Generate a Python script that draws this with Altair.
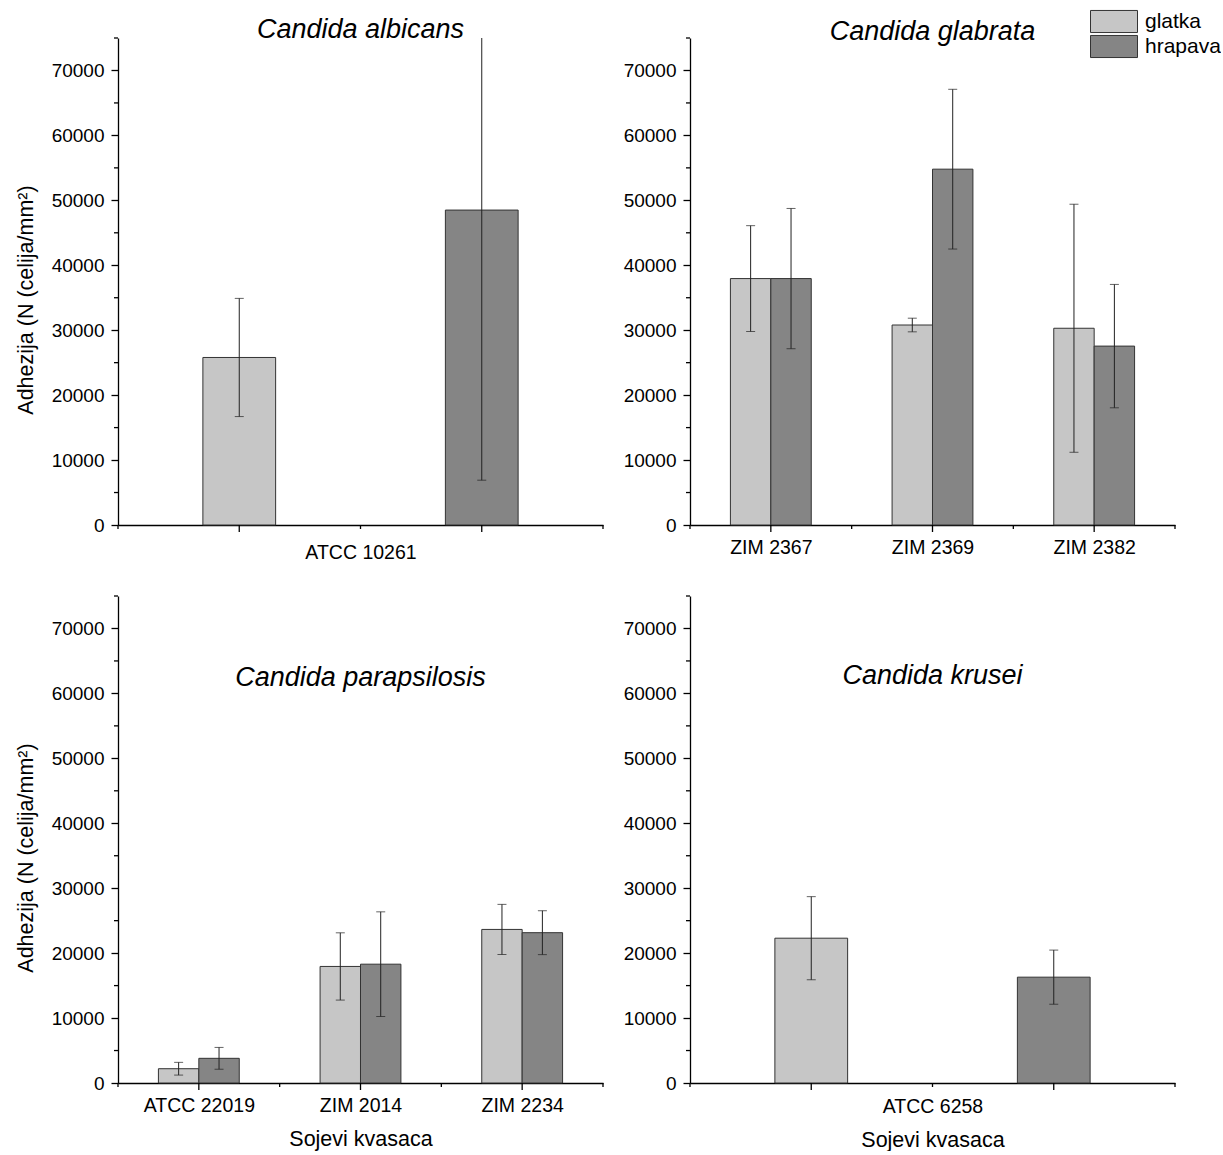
import altair as alt
import pandas as pd

FONT = "Liberation Sans"
SERIES = ["glatka", "hrapava"]
COLORS = ["#c6c6c6", "#858585"]

# Candida albicans
alb_strains = ["ATCC 10261"]
alb_glatka = [25800]
alb_glatka_sd = [9100]
alb_hrapava = [48500]
alb_hrapava_sd = [41600]

# Candida glabrata
gla_strains = ["ZIM 2367", "ZIM 2369", "ZIM 2382"]
gla_glatka = [37950, 30800, 30300]
gla_glatka_sd = [8150, 1050, 19100]
gla_hrapava = [37950, 54800, 27550]
gla_hrapava_sd = [10800, 12300, 9500]

# Candida parapsilosis
par_strains = ["ATCC 22019", "ZIM 2014", "ZIM 2234"]
par_glatka = [2200, 17950, 23650]
par_glatka_sd = [980, 5180, 3860]
par_hrapava = [3800, 18300, 23150]
par_hrapava_sd = [1680, 8060, 3380]

# Candida krusei
kru_strains = ["ATCC 6258"]
kru_glatka = [22300]
kru_glatka_sd = [6400]
kru_hrapava = [16300]
kru_hrapava_sd = [4170]

Y_TITLE = "Adhezija (N (celija/mm²)"
X_TITLE = "Sojevi kvasaca"
Y_MAJOR = list(range(0, 70001, 10000))
Y_MINOR = list(range(5000, 75001, 10000))

W, H = 485, 487


def make_panel(title, strains, g, gsd, h, hsd, ytitle, xtitle, toffset, xlabpad):
    single = len(strains) == 1
    rows = []
    for i, s in enumerate(strains):
        for k, (m, sd) in enumerate([(g[i], gsd[i]), (h[i], hsd[i])]):
            if single:
                c = 1.0 + 2.0 * k
                half = 0.3
            else:
                c = i + 1 - 0.125 + 0.25 * k
                half = 0.125
            rows.append({"strain": s, "tip": SERIES[k], "mean": m,
                         "lo": m - sd, "hi": m + sd,
                         "xc": c, "x0": c - half, "x1": c + half})
    df = pd.DataFrame(rows)

    if single:
        dom = [0, 4]
        label_vals = [2]
        lab = f"'{strains[0]}'"
        xmajor = [1, 3]
        xminor = [0, 2, 4]
    else:
        n = len(strains)
        dom = [0.5, n + 0.5]
        label_vals = list(range(1, n + 1))
        lab = " : ".join(f"datum.value == {i + 1} ? '{s}'" for i, s in enumerate(strains)) + " : ''"
        xmajor = list(range(1, n + 1))
        xminor = [0.5 + j for j in range(n + 1)]

    xscale = alt.Scale(domain=dom, nice=False, zero=False)
    yscale = alt.Scale(domain=[0, 75000], nice=False, zero=True)

    xaxis = alt.Axis(values=label_vals, labelExpr=lab, ticks=False, tickSize=0,
                     labelPadding=xlabpad, titlePadding=14, title=xtitle,
                     labelFontSize=19.5, titleFontSize=21.5)
    yaxis = alt.Axis(values=Y_MAJOR, format="d", tickSize=7,
                     labelPadding=7, titlePadding=14, title=ytitle,
                     titleY=H / 2 + 18, titleFontSize=21.5)

    base = alt.Chart(df)
    bars = base.mark_bar(stroke="#333333", strokeWidth=1).encode(
        x=alt.X("x0:Q", scale=xscale, axis=xaxis),
        x2="x1:Q",
        y=alt.Y("mean:Q", scale=yscale, stack=None, axis=yaxis),
        y2=alt.datum(0),
        color=alt.Color("tip:N", scale=alt.Scale(domain=SERIES, range=COLORS),
                        legend=alt.Legend(orient="none", legendX=972, legendY=-29,
                                          title=None,
                                          symbolType="M-1,-0.47H1V0.47H-1Z",
                                          symbolSize=2209,
                                          symbolStrokeColor="#333333",
                                          symbolStrokeWidth=1,
                                          symbolOpacity=1,
                                          clipHeight=25,
                                          labelFont=FONT, labelFontSize=21,
                                          labelColor="black", labelOffset=7,
                                          rowPadding=0)),
    )
    rule = base.mark_rule(color="#222222", strokeWidth=1, clip=True).encode(
        x=alt.X("xc:Q", scale=xscale, axis=xaxis),
        y=alt.Y("lo:Q", scale=yscale, axis=yaxis),
        y2="hi:Q",
    )
    cap_lo = base.mark_tick(color="#222222", orient="horizontal", size=9, thickness=1, clip=True).encode(
        x=alt.X("xc:Q", scale=xscale, axis=xaxis),
        y=alt.Y("lo:Q", scale=yscale, axis=yaxis),
    )
    cap_hi = base.mark_tick(color="#222222", orient="horizontal", size=9, thickness=1, clip=True).encode(
        x=alt.X("xc:Q", scale=xscale, axis=xaxis),
        y=alt.Y("hi:Q", scale=yscale, axis=yaxis),
    )
    # minor / major tick decorations that Vega-Lite axes cannot draw
    ymin = alt.Chart(pd.DataFrame({"v": Y_MINOR})).mark_rule(color="black", strokeWidth=1.3).encode(
        y=alt.Y("v:Q", scale=yscale, axis=yaxis),
        x=alt.value(-4), x2=alt.value(0),
    )
    xmaj = alt.Chart(pd.DataFrame({"v": xmajor})).mark_rule(color="black", strokeWidth=1.3).encode(
        x=alt.X("v:Q", scale=xscale, axis=xaxis),
        y=alt.value(H), y2=alt.value(H + 7),
    )
    xmin = alt.Chart(pd.DataFrame({"v": xminor})).mark_rule(color="black", strokeWidth=1.3).encode(
        x=alt.X("v:Q", scale=xscale, axis=xaxis),
        y=alt.value(H), y2=alt.value(H + 4),
    )
    return alt.layer(bars, rule, cap_lo, cap_hi, ymin, xmaj, xmin).properties(
        width=W, height=H,
        title=alt.TitleParams(title, font=FONT, fontSize=27, fontStyle="italic",
                              fontWeight="normal", color="black", anchor="middle",
                              baseline="middle", offset=toffset),
    )


p1 = make_panel("Candida albicans", alb_strains, alb_glatka, alb_glatka_sd,
                alb_hrapava, alb_hrapava_sd, Y_TITLE, None, -20, 18)
p2 = make_panel("Candida glabrata", gla_strains, gla_glatka, gla_glatka_sd,
                gla_hrapava, gla_hrapava_sd, None, None, -22, 13)
p3 = make_panel("Candida parapsilosis", par_strains, par_glatka, par_glatka_sd,
                par_hrapava, par_hrapava_sd, Y_TITLE, X_TITLE, -110, 13)
p4 = make_panel("Candida krusei", kru_strains, kru_glatka, kru_glatka_sd,
                kru_hrapava, kru_hrapava_sd, None, X_TITLE, -108, 14)

chart = alt.ConcatChart(concat=[p1, p2, p3, p4], columns=2,
                        spacing={"row": 71, "column": 87}, bounds="flush").properties(
    padding={"left": 15, "top": 9, "right": 0, "bottom": 0}
).configure_view(stroke=None).configure_axis(
    grid=False, domainColor="black", tickColor="black", domainWidth=1.3, tickWidth=1.3,
    labelColor="black", titleColor="black", labelFont=FONT, titleFont=FONT,
    labelFontSize=19, titleFontSize=21, titleFontWeight="normal",
)

chart.save("out.html", embed_options={"renderer": "svg", "actions": False})
